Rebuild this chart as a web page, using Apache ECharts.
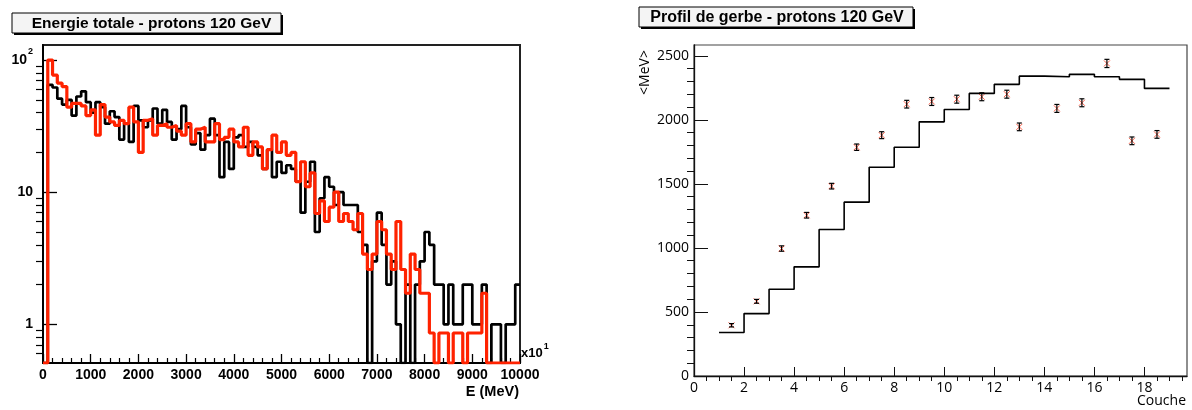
<!DOCTYPE html>
<html>
<head>
<meta charset="utf-8">
<script src="https://cdn.jsdelivr.net/npm/echarts@6/dist/echarts.min.js"></script>
<style>
  html, body { margin: 0; padding: 0; background: #fff; }
  #chart { width: 1192px; height: 410px; }
</style>
</head>
<body>
<div id="chart"></div>
<script>
// ---- Total energy spectrum: 100 bins of 100 (x10 MeV) from 0 to 10000 ----
const energyBinWidth = 100;
const dataCounts = [
  0, 65, 62, 51, 46, 50, 38, 53, 58, 48,
  40, 48, 44, 33, 41, 37, 25, 33, 24, 45,
  35, 31, 35, 43, 33, 42, 34, 25, 30, 45,
  31, 23, 28, 21, 27, 36, 27, 13, 24, 15,
  26, 27, 22, 24, 22, 19, 15, 21, 13, 17,
  14, 16, 15, 12, 7, 12, 17, 5, 9, 13,
  11, 8, 10, 8, 8, 8, 5, 4, 0, 3,
  7, 4, 2, 3, 1, 0, 2, 0, 2, 3,
  5, 4, 2, 2, 1, 2, 1, 1, 2, 2,
  1, 1, 2, 0, 1, 1, 0, 1, 1, 2
];
const simValues = [
  0, 100, 77, 67, 63, 44, 47, 47, 45, 38,
  42, 27, 46, 37, 34, 32, 35, 33, 44, 34,
  20, 35, 36, 27, 32, 33, 31, 32, 29, 27,
  33, 24, 30, 31, 24, 24, 33, 25, 26, 30,
  24, 22, 31, 19, 24, 22, 15, 21, 27, 20,
  24, 19, 20, 12, 17, 11, 14, 6.9, 8.6, 6,
  7.7, 10, 6, 6.9, 6, 5.2, 6.9, 3.4, 2.6, 3.4,
  6, 5.2, 3.4, 2.6, 6, 2.6, 1.72, 3.4, 2.6, 1.72,
  1.72, 0.86, 0, 0.86, 0.86, 0, 0.86, 0.86, 0, 0.86,
  0.86, 0.86, 1.72, 0, 0, 0, 0, 0, 0, 0
];
const logMajorTicks = [1, 10, 100];
const logMinorTicks = [0.6, 0.7, 0.8, 0.9, 2, 3, 4, 5, 6, 7, 8, 9, 20, 30, 40, 50, 60, 70, 80, 90];
const logMin = 0.51;
const logMax = 130;

// ---- Longitudinal shower profile per layer ----
const layerEdges = [1, 2, 3, 4, 5, 6, 7, 8, 9, 10, 11, 12, 13, 14, 15, 16, 17, 18, 19];
const layerSimMeans = [340, 487, 677, 852, 1144, 1357, 1630, 1786, 1984, 2081, 2206, 2277, 2341, 2336, 2355, 2336, 2316, 2245];
const layerPoints = [1.5, 2.5, 3.5, 4.5, 5.5, 6.5, 7.5, 8.5, 9.5, 10.5, 11.5, 12.5, 13.0, 14.5, 15.5, 16.5, 17.5, 18.5];
const layerDataMeans = [396, 583, 995, 1255, 1482, 1786, 1880, 2122, 2143, 2161, 2180, 2200, 1945, 2089, 2133, 2440, 1836, 1886];
const layerDataErrors = [13, 15, 21, 22, 22, 25, 27, 30, 31, 31, 31, 31, 30, 31, 31, 32, 30, 30];
const layerMajorTicks = [0, 2, 4, 6, 8, 10, 12, 14, 16, 18];
const layerMinorTicks = [0.5, 1, 1.5, 2.5, 3, 3.5, 4.5, 5, 5.5, 6.5, 7, 7.5, 8.5, 9, 9.5, 10.5, 11, 11.5,
  12.5, 13, 13.5, 14.5, 15, 15.5, 16.5, 17, 17.5, 18.5, 19, 19.5];
const mevMajorTicks = [0, 500, 1000, 1500, 2000, 2500];
const mevMinorTicks = [100, 200, 300, 400, 600, 700, 800, 900, 1100, 1200, 1300, 1400,
  1600, 1700, 1800, 1900, 2100, 2200, 2300, 2400];

const BOLD = '"Liberation Sans", Arial, Helvetica, sans-serif';
const THIN = '"Open Sans", "Noto Sans", sans-serif';

// Histogram outline: one point per bin low edge plus the last high edge.
// Empty bins sit on the floor of the axis.
function histogramSteps(values, width, floor) {
  const pts = values.map((v, i) => [i * width, v > 0 ? v : floor]);
  const last = values[values.length - 1];
  pts.push([values.length * width, last > 0 ? last : floor]);
  return pts;
}
function profileSteps(edges, values) {
  const pts = values.map((v, i) => [edges[i], v]);
  pts.push([edges[edges.length - 1], values[values.length - 1]]);
  return pts;
}
// plain numbers, no thousands separators
const plain = v => String(v);

const chart = echarts.init(document.getElementById('chart'), null, { renderer: 'canvas' });

const boldLabel = { fontFamily: BOLD, fontWeight: 'bold', fontSize: 14, color: '#000' };
const thinLabel = { fontFamily: THIN, fontSize: 14, color: '#000' };

chart.setOption({
  animation: false,
  backgroundColor: '#fff',
  grid: [
    { left: 43, top: 45, width: 477, height: 318, show: true, borderColor: '#222', borderWidth: 2 },
    { left: 694, top: 45, width: 493, height: 331, show: true, borderColor: '#444', borderWidth: 1.2 }
  ],
  xAxis: [
    {
      gridIndex: 0, type: 'value', min: 0, max: 10000, interval: 1000,
      axisLine: { show: true, onZero: false, lineStyle: { color: '#000', width: 2 } },
      axisTick: { show: true, inside: true, length: 9, lineStyle: { color: '#000', width: 1.3 } },
      minorTick: { show: true, splitNumber: 5, length: 5, lineStyle: { color: '#000', width: 1.2 } },
      splitLine: { show: false },
      axisLabel: Object.assign({ margin: 5, hideOverlap: false, formatter: plain }, boldLabel)
    },
    {
      gridIndex: 1, type: 'value', min: 0, max: 19.7,
      axisLine: { show: true, onZero: false, lineStyle: { color: '#111', width: 1.3 } },
      axisTick: { show: true, inside: true, length: 9, customValues: layerMajorTicks, lineStyle: { color: '#111', width: 1 } },
      splitLine: { show: false },
      axisLabel: Object.assign({ margin: 5, customValues: layerMajorTicks, hideOverlap: false, formatter: plain }, thinLabel)
    },
    {
      gridIndex: 1, type: 'value', min: 0, max: 19.7,
      axisLine: { show: false },
      axisTick: { show: true, inside: true, length: 5, customValues: layerMinorTicks, lineStyle: { color: '#111', width: 1 } },
      axisLabel: { show: false },
      splitLine: { show: false }
    }
  ],
  yAxis: [
    {
      gridIndex: 0, type: 'log', logBase: 10, min: logMin, max: logMax,
      axisLine: { show: true, onZero: false, lineStyle: { color: '#000', width: 2 } },
      axisTick: { show: true, inside: true, length: 14, customValues: logMajorTicks, lineStyle: { color: '#000', width: 1.3 } },
      splitLine: { show: false },
      axisLabel: {
        customValues: logMajorTicks, margin: 10, hideOverlap: false,
        fontFamily: BOLD, fontWeight: 'bold', fontSize: 14, color: '#000',
        formatter: v => (v >= 100 ? '{b|10}{s|2}' : '{b|' + v + '}'),
        rich: {
          b: { fontFamily: BOLD, fontWeight: 'bold', fontSize: 14, color: '#000', lineHeight: 26, verticalAlign: 'middle' },
          s: { fontFamily: BOLD, fontWeight: 'bold', fontSize: 9, color: '#000', lineHeight: 12, verticalAlign: 'top', padding: [0, 0, 0, 1] }
        }
      }
    },
    {
      gridIndex: 0, type: 'log', logBase: 10, min: logMin, max: logMax,
      axisLine: { show: false },
      axisTick: { show: true, inside: true, length: 7, customValues: logMinorTicks, lineStyle: { color: '#000', width: 1.2 } },
      axisLabel: { show: false },
      splitLine: { show: false }
    },
    {
      gridIndex: 1, type: 'value', min: 0, max: 2584,
      axisLine: { show: true, onZero: false, lineStyle: { color: '#111', width: 1.3 } },
      axisTick: { show: true, inside: true, length: 14, customValues: mevMajorTicks, lineStyle: { color: '#111', width: 1 } },
      splitLine: { show: false },
      axisLabel: Object.assign({ margin: 5, customValues: mevMajorTicks, hideOverlap: false, formatter: plain }, thinLabel)
    },
    {
      gridIndex: 1, type: 'value', min: 0, max: 2584,
      axisLine: { show: false },
      axisTick: { show: true, inside: true, length: 7, customValues: mevMinorTicks, lineStyle: { color: '#111', width: 1 } },
      axisLabel: { show: false },
      splitLine: { show: false }
    }
  ],
  series: [
    {
      name: 'data', type: 'line', xAxisIndex: 0, yAxisIndex: 0, step: 'end',
      symbol: 'none', clip: true,
      lineStyle: { color: '#000', width: 2.7 },
      data: histogramSteps(dataCounts, energyBinWidth, logMin)
    },
    {
      name: 'simulation', type: 'line', xAxisIndex: 0, yAxisIndex: 0, step: 'end',
      symbol: 'none', clip: true,
      lineStyle: { color: '#ff2200', width: 3.2 },
      data: histogramSteps(simValues, energyBinWidth, logMin)
    },
    {
      name: 'profile simulation', type: 'line', xAxisIndex: 1, yAxisIndex: 2, step: 'end',
      symbol: 'none', clip: true,
      lineStyle: { color: '#000', width: 1.6 },
      data: profileSteps(layerEdges, layerSimMeans)
    },
    {
      name: 'profile data', type: 'custom', xAxisIndex: 1, yAxisIndex: 2,
      encode: { x: 0, y: 1 },
      data: layerPoints.map((x, i) => [x, layerDataMeans[i], layerDataErrors[i]]),
      renderItem: function (params, api) {
        const x = api.value(0), y = api.value(1), e = api.value(2);
        const c = api.coord([x, y]);
        const hi = api.coord([x, y + e]);
        const lo = api.coord([x, y - e]);
        const m = 3;
        const cap = 2.5;
        const red = { stroke: '#ff6650', lineWidth: 1 };
        const blk = { stroke: '#000', lineWidth: 1.2 };
        return {
          type: 'group',
          children: [
            { type: 'line', shape: { x1: c[0] - m, y1: c[1] - m, x2: c[0] + m, y2: c[1] + m }, style: red },
            { type: 'line', shape: { x1: c[0] - m, y1: c[1] + m, x2: c[0] + m, y2: c[1] - m }, style: red },
            { type: 'line', shape: { x1: c[0], y1: hi[1], x2: c[0], y2: lo[1] }, style: blk },
            { type: 'line', shape: { x1: c[0] - cap, y1: hi[1], x2: c[0] + cap, y2: hi[1] }, style: blk },
            { type: 'line', shape: { x1: c[0] - cap, y1: lo[1], x2: c[0] + cap, y2: lo[1] }, style: blk }
          ]
        };
      }
    }
  ],
  graphic: [
    // title boxes with drop shadow
    { type: 'rect', shape: { x: 14, y: 15, width: 269, height: 20 }, style: { fill: '#000' }, z: 10 },
    { type: 'rect', shape: { x: 12, y: 13, width: 269, height: 20 }, style: { fill: '#f4f4f4', stroke: '#000', lineWidth: 1 }, z: 11 },
    { type: 'text', x: 151.5, y: 24, z: 12,
      style: { text: 'Energie totale - protons 120 GeV', font: 'bold 15.5px ' + BOLD, fill: '#000', align: 'center', verticalAlign: 'middle' } },
    { type: 'rect', shape: { x: 641, y: 9, width: 274, height: 20 }, style: { fill: '#000' }, z: 10 },
    { type: 'rect', shape: { x: 639, y: 7, width: 274, height: 20 }, style: { fill: '#f4f4f4', stroke: '#000', lineWidth: 1 }, z: 11 },
    { type: 'text', x: 777, y: 17.5, z: 12,
      style: { text: 'Profil de gerbe - protons 120 GeV', font: 'bold 16px ' + BOLD, fill: '#000', align: 'center', verticalAlign: 'middle' } },
    // axis titles
    { type: 'text', x: 519, y: 392, z: 12,
      style: { text: 'E (MeV)', font: 'bold 14.5px ' + BOLD, fill: '#000', align: 'right', verticalAlign: 'middle' } },
    { type: 'text', x: 521, y: 353, z: 12,
      style: {
        text: '{b|x10}{s|1}', align: 'left', verticalAlign: 'middle',
        rich: {
          b: { font: 'bold 13px ' + BOLD, fill: '#000', lineHeight: 22, verticalAlign: 'middle' },
          s: { font: 'bold 9px ' + BOLD, fill: '#000', lineHeight: 12, verticalAlign: 'top', padding: [0, 0, 0, 1] }
        }
      } },
    { type: 'text', x: 1186, y: 401, z: 12,
      style: { text: 'Couche', font: '14px ' + THIN, fill: '#000', align: 'right', verticalAlign: 'middle' } },
    { type: 'text', x: 645.5, y: 72.5, rotation: Math.PI / 2, z: 12,
      style: { text: '<MeV>', font: '14px ' + THIN, fill: '#000', align: 'center', verticalAlign: 'middle' } }
  ]
});
</script>
</body>
</html>
